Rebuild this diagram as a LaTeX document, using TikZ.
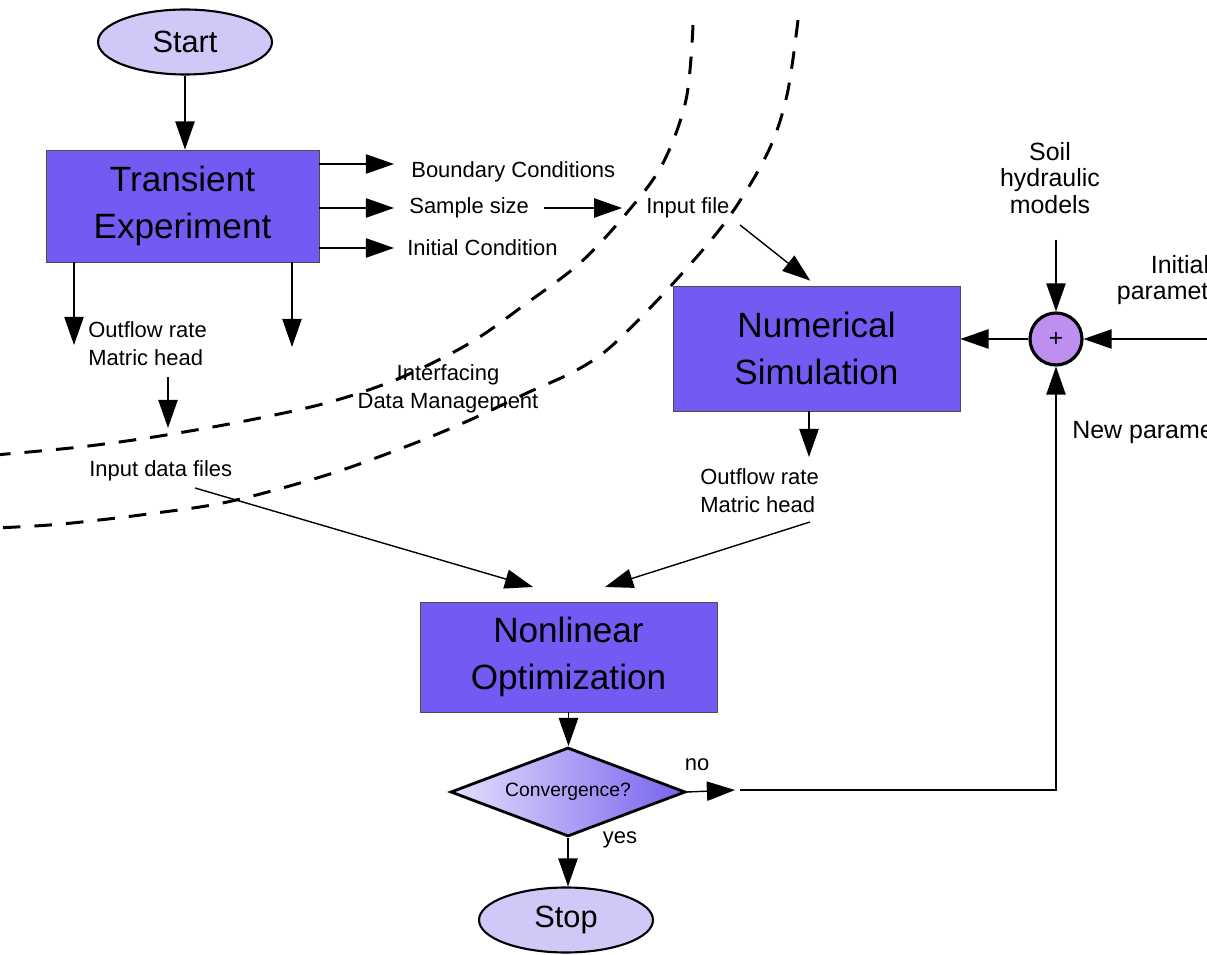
\documentclass[tikz,border=0pt]{standalone}
\usepackage{fontspec}
\setmainfont{Liberation Sans}
\usetikzlibrary{arrows.meta,shapes.geometric,calc}
\definecolor{boxfill}{RGB}{114,90,242}
\definecolor{termfill}{RGB}{206,201,246}
\definecolor{circfill}{RGB}{190,142,240}
\definecolor{dmL}{RGB}{228,224,252}
\definecolor{dmR}{RGB}{118,98,238}
\begin{document}
\begin{tikzpicture}[x=0.02cm,y=-0.02cm,
  lbl/.style={font=\fontsize{12.5}{16}\selectfont, inner sep=0pt, align=left},
  biglbl/.style={font=\fontsize{14.2}{15}\selectfont, inner sep=0pt, align=center},
  bigbox/.style={draw=black!70, line width=0.5pt, fill=boxfill, font=\fontsize{20}{26.7}\selectfont, align=center, inner sep=0pt},
  term/.style={ellipse, draw, line width=1.2pt, fill=termfill, minimum width=3.48cm, minimum height=1.3cm, inner sep=0pt, font=\fontsize{17.5}{20}\selectfont},
  arr/.style={line width=0.8pt, -{Triangle[length=16pt,width=11pt]}},
  bound/.style={line width=1.7pt, dash pattern=on 10pt off 8pt},
]
\useasboundingbox (0,0) rectangle (1207,955);
\clip (0,0) rectangle (1207,955);

% dashed boundaries
\draw[bound] plot[smooth, tension=0.55] coordinates {(693,25) (686,100) (662,165) (625,215) (580,263) (527,303) (470,343) (400,378) (330,402) (250,420) (160,436) (80,447) (-5,455)};
\draw[bound] plot[smooth, tension=0.55] coordinates {(798,20) (787,95) (768,152) (729,217) (678,278) (615,343) (577,370) (527,393) (470,420) (410,445) (330,474) (232,501) (156,513) (62,524) (-5,528)};

% main nodes
\node[term] (start) at (185,42) {Start};
\node[bigbox, minimum width=5.46cm, minimum height=2.24cm] (te) at (182.5,206) {Transient\\Experiment};
\node[bigbox, minimum width=5.74cm, minimum height=2.5cm] (ns) at (816.5,348.5) {Numerical\\Simulation};
\node[bigbox, minimum width=5.94cm, minimum height=2.2cm] (nlo) at (568.5,657) {Nonlinear\\Optimization};
\node[diamond, aspect=2.67, draw, line width=1.6pt, left color=dmL, right color=dmR, minimum width=4.7cm, minimum height=1.78cm, inner sep=0pt, font=\fontsize{11}{13}\selectfont] (dm) at (568,792) {Convergence?};
\node[term] (stop) at (566,920) {Stop};
\node[circle, draw, line width=1.8pt, fill=circfill, minimum size=1.04cm, inner sep=0pt, font=\fontsize{14}{14}\selectfont] (circ) at (1056,339) {+};

% labels
\node[lbl, anchor=west] (bc) at (411,172) {Boundary Conditions};
\node[lbl, anchor=west] (ss) at (409,208) {Sample size};
\node[lbl, anchor=west] (ic) at (407,248) {Initial Condition};
\node[lbl, anchor=west] (inf) at (646,208) {Input file};
\node[lbl, anchor=west] (of1) at (88,344) {Outflow rate\\Matric head};
\node[lbl, align=center] (idm) at (448,389) {Interfacing\\Data Management};
\node[lbl, anchor=west] (idf) at (89,471) {Input data files};
\node[lbl, anchor=west] (of2) at (700,491) {Outflow rate\\Matric head};
\node[biglbl] (soil) at (1050,178) {Soil\\hydraulic\\models};
\node[biglbl] (ip) at (1180,280) {Initial\\parameters};
\node[biglbl, anchor=west] (np) at (1072,433) {New parameters};
\node[lbl] (no) at (697,765) {no};
\node[lbl] (yes) at (620,840) {yes};

% free-end coordinates
\coordinate (bcin) at (394,164);
\coordinate (ssin) at (394,208);
\coordinate (icin) at (394,248);
\coordinate (d1) at (74,345);
\coordinate (d2) at (292,347);
\coordinate (a1s) at (168,377);
\coordinate (a1e) at (168,428);
\coordinate (idfo) at (195,488);
\coordinate (nin1) at (533,587);
\coordinate (nin2) at (605,587);
\coordinate (of2o) at (810,522);
\coordinate (d3) at (809,457);
\coordinate (ifo) at (740,225);
\coordinate (soilo) at (1056,240);
\coordinate (ipo) at (1215,339);
\coordinate (noe) at (735,790);
\coordinate (nos) at (740,790);

% connectors
\draw[arr] (start.south) -- (start.south |- te.north);
\draw[arr] (te.east |- bcin) -- (bcin);
\draw[arr] (te.east |- ssin) -- (ssin);
\draw[arr] (te.east |- icin) -- (icin);
\draw[arr, shorten <=8.5pt, shorten >=13.6pt] (ss.east) -- (inf.west);
\draw[arr, shorten >=4.5pt] (ifo) -- (ns.north);
\draw[arr] (d1 |- te.south) -- (d1);
\draw[arr] (d2 |- te.south) -- (d2);
\draw[arr] (a1s) -- (a1e);
\draw[arr] (idfo) -- (nin1);
\draw[arr] (d3 |- ns.south) -- (d3);
\draw[arr] (of2o) -- (nin2);
\draw[arr] (nlo.south) -- (nlo.south |- dm.north);
\draw[arr] (dm.south) -- (dm.south |- stop.north);
\draw[arr] (dm.east) -- (noe);
\draw[arr] (nos) -| (circ.south);
\draw[arr] (soilo) -- (circ.north);
\draw[arr] (ipo) -- (circ.east);
\draw[arr] (circ.west) -- (circ.west -| ns.east);
\end{tikzpicture}
\end{document}
